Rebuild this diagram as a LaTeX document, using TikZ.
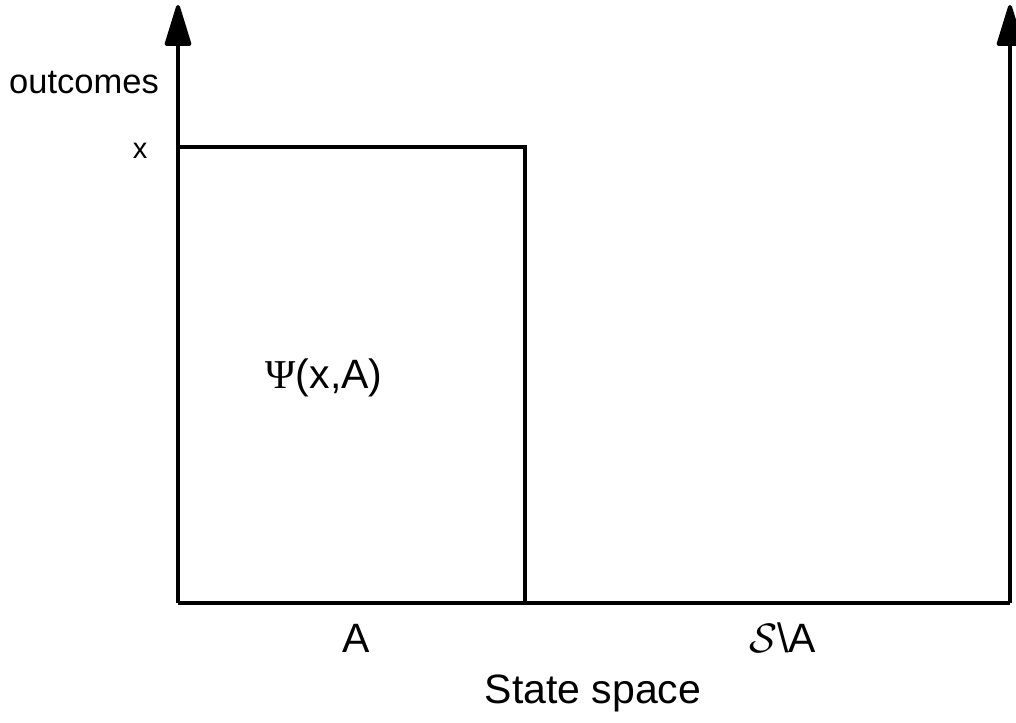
\documentclass[tikz,border=0pt]{standalone}
\usepackage{fix-cm}
\usepackage{fontspec}
\setmainfont{Liberation Sans}
\newfontfamily\grserif{Liberation Serif}
\usetikzlibrary{arrows.meta}
\begin{document}
\begin{tikzpicture}[x=1pt,y=-1pt,
  axis/.style={line width=4pt,-{Triangle[length=46pt,width=27pt,round]}},
  boxline/.style={line width=3.2pt},
  big/.style={inner sep=0pt,font=\fontsize{41}{46}\selectfont},
  small/.style={inner sep=0pt,font=\fontsize{34.5}{40}\selectfont},
  tiny/.style={inner sep=0pt,font=\fontsize{29}{34}\selectfont}]
\useasboundingbox (0,0) rectangle (1016,722);
\coordinate (O) at (178,603);
\coordinate (Ltop) at (178,5);
\coordinate (R) at (1010,603);
\coordinate (Rtop) at (1010,5);
\coordinate (Xl) at (178,147);
\coordinate (Xr) at (525,147);
\coordinate (Br) at (525,603);
\draw[axis] (O) -- (Ltop);
\draw[axis] (R) -- (Rtop);
\draw[line width=4pt] (O) -- (R);
\draw[boxline] (Xl) -- (Xr) -- (Br);
\node[small] (outc) at (84,83) {outcomes};
\node[tiny] (xl) at (140,151) {x};
\node[big] (psi) at (324,378) {{\grserif Ψ}(x,A)};
\node[big] (a) at (356,638) {A};
\node[big] (sa) at (783,638) {$\mathcal{S}$\textbackslash A};
\node[big] (ss) at (593,693) {State space};
\end{tikzpicture}
\end{document}
